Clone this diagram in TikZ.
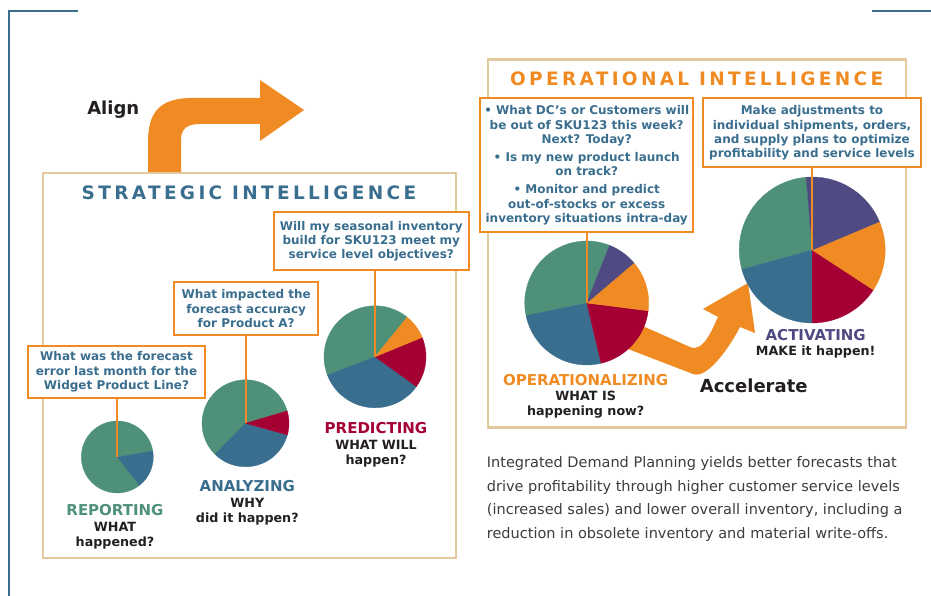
\documentclass[tikz,border=0pt]{standalone}
\usepackage{fontspec}
\setmainfont{DejaVu Sans}
\newfontfamily\titlefont[LetterSpace=18]{DejaVu Sans}
\usetikzlibrary{calc}
\definecolor{cgreen}{HTML}{4E9178}
\definecolor{cblue}{HTML}{3A6E8F}
\definecolor{cred}{HTML}{A50034}
\definecolor{corange}{HTML}{EF8B22}
\definecolor{cpurple}{HTML}{4F4A82}
\definecolor{ctan}{HTML}{E5C99E}
\definecolor{ctext}{HTML}{3A6E8F}
\definecolor{cdark}{HTML}{231F20}
\definecolor{cgray}{HTML}{3C3C3C}
\newcommand\pieslc[5]{\filldraw[fill=#5,draw=#5,line width=0.3pt] (#1) -- ++(#2:#4) arc[start angle=#2,end angle=#3,radius=#4] -- cycle;}
\tikzset{
  callout/.style={draw=corange, line width=2pt, fill=white, inner sep=0pt, align=center, text=ctext,
    font=\bfseries\fontsize{12}{14.4}\selectfont},
  conn/.style={draw=corange, line width=2pt},
  frame/.style={draw=ctan, line width=2.5pt},
  ttl/.style={inner sep=0pt, font=\titlefont\bfseries\fontsize{18.5}{18.5}\selectfont},
  lbl/.style={align=center, inner sep=0pt, text=cdark, font=\bfseries\fontsize{12.7}{15.3}\selectfont},
  big/.style={inner sep=0pt, text=cdark, font=\bfseries\fontsize{18}{18}\selectfont},
}
\begin{document}
\begin{tikzpicture}[x=1pt,y=1pt]
\useasboundingbox (0,0) rectangle (931,596);
% corner brackets
\draw[cblue, line width=2.5pt] (9,0) -- (9,585) -- (78,585);
\draw[cblue, line width=2.5pt] (872,585) -- (931,585);
% Align arrow
\fill[corange] (148,423) -- (148,454) .. controls (148,484) and (160,498) .. (192,498) -- (260,498) -- (260,516) -- (304,486) -- (260,455) -- (260,472) -- (200,472) .. controls (188,472) and (181,468) .. (181,456) -- (181,423) -- cycle;
\node[big] (align) at (113.3,486) {Align};
% frames
\draw[frame] (43,38) rectangle (456,423);
\draw[frame] (488,168.3) rectangle (906,536.7);
\node[ttl, text=cblue] (st) at (249,403) {STRATEGIC INTELLIGENCE};
\node[ttl, text=corange] (ot) at (696.7,517) {OPERATIONAL INTELLIGENCE};
% callouts
\node[callout, minimum width=177pt, minimum height=52pt] (c1) at (116.5,224) {What was the forecast\\error last month for the\\Widget Product Line?};
\node[callout, minimum width=144pt, minimum height=53pt] (c2) at (246.2,287.3) {What impacted the\\forecast accuracy\\for Product A?};
\node[callout, minimum width=195pt, minimum height=58pt] (c3) at (371.3,354.7) {Will my seasonal inventory\\build for SKU123 meet my\\service level objectives?};
\node[callout, minimum width=213pt, minimum height=134pt] (c4) at (586.7,430.5) {• What DC’s or Customers will\\be out of SKU123 this week?\\Next? Today?\\[3.6pt]• Is my new product launch\\on track?\\[3.6pt]• Monitor and predict\\out-of-stocks or excess\\inventory situations intra-day};
\node[callout, minimum width=218pt, minimum height=69pt] (c5) at (812,463) {Make adjustments to\\individual shipments, orders,\\and supply plans to optimize\\profitability and service levels};
% Accelerate arrow
\fill[corange] (620,280) -- (690,249) .. controls (704,243) and (713,269) .. (718,279) -- (703,287) -- (748,313) -- (755,263) -- (740,269) .. controls (732,253) and (708,216) .. (693,222) -- (615,252) -- cycle;
% pie centres
\coordinate (p1) at (117.3,139);
\coordinate (p2) at (245.5,172.7);
\coordinate (p3) at (375,239.2);
\coordinate (p4) at (586.7,293);
\coordinate (p5) at (812.2,346);
% pie 1
\pieslc{p1}{9.7}{308}{36}{cgreen}
\pieslc{p1}{-52}{9.7}{36}{cblue}
% pie 2
\pieslc{p2}{16.6}{225.5}{43.5}{cgreen}
\pieslc{p2}{225.5}{344.5}{43.5}{cblue}
\pieslc{p2}{-15.5}{16.6}{43.5}{cred}
% pie 3
\pieslc{p3}{50.9}{200.9}{51}{cgreen}
\pieslc{p3}{200.9}{324.3}{51}{cblue}
\pieslc{p3}{-35.7}{22.4}{51}{cred}
\pieslc{p3}{22.4}{50.9}{51}{corange}
% pie 4
\pieslc{p4}{68.4}{191.8}{62}{cgreen}
\pieslc{p4}{191.8}{283.5}{62}{cblue}
\pieslc{p4}{-76.5}{-7.2}{62}{cred}
\pieslc{p4}{-7.2}{40.4}{62}{corange}
\pieslc{p4}{40.4}{68.4}{62}{cpurple}
% pie 5
\pieslc{p5}{94.8}{195.5}{73}{cgreen}
\pieslc{p5}{195.5}{270}{73}{cblue}
\pieslc{p5}{-90}{-33.1}{73}{cred}
\pieslc{p5}{-33.1}{22.9}{73}{corange}
\pieslc{p5}{22.9}{94.8}{73}{cpurple}
% connectors
\draw[conn] (c1.south -| p1) -- (p1);
\draw[conn] (c2.south -| p2) -- (p2);
\draw[conn] (c3.south -| p3) -- (p3);
\draw[conn] (c4.south -| p4) -- (p4);
\draw[conn] (c5.south -| p5) -- (p5);
% labels
\node[lbl] (l1) at (115,69) {{\color{cgreen}\fontsize{15}{15}\selectfont REPORTING}\\WHAT\\happened?};
\node[lbl] (l2) at (247.3,93) {{\color{cblue}\fontsize{15}{15}\selectfont ANALYZING}\\WHY\\did it happen?};
\node[lbl] (l3) at (376,151) {{\color{cred}\fontsize{15}{15}\selectfont PREDICTING}\\WHAT WILL\\happen?};
\node[lbl] (l4) at (585.7,199.5) {{\color{corange}\fontsize{15}{15}\selectfont OPERATIONALIZING}\\WHAT IS\\happening now?};
\node[lbl] (l5) at (815.7,252) {{\color{cpurple}\fontsize{15}{15}\selectfont ACTIVATING}\\MAKE it happen!};
\node[big] (acc) at (753.7,210) {Accelerate};
% paragraph
\node[anchor=west, align=left, inner sep=0pt, text=cgray, font=\fontsize{14.5}{23.7}\selectfont] (para) at (486.7,97) {Integrated Demand Planning yields better forecasts that\\drive profitability through higher customer service levels\\(increased sales) and lower overall inventory, including a\\reduction in obsolete inventory and material write-offs.};
\end{tikzpicture}
\end{document}
